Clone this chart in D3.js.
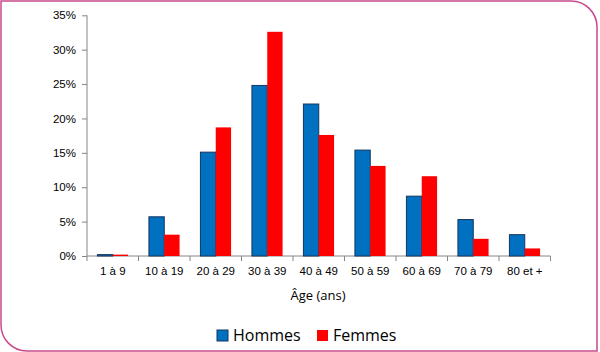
<!DOCTYPE html>
<html>
<head>
<meta charset="utf-8">
<script src="https://cdn.jsdelivr.net/npm/d3@7"></script>
<style>
  body { margin: 0; background: #fff; }
  svg { display: block; font-family: "Open Sans", "DejaVu Sans", sans-serif; }
</style>
</head>
<body>
<svg id="chart" width="600" height="352"></svg>
<script>
var categories = ["1 à 9", "10 à 19", "20 à 29", "30 à 39", "40 à 49", "50 à 59", "60 à 69", "70 à 79", "80 et +"];
var hommes = [0.2, 5.7, 15.1, 24.8, 22.1, 15.4, 8.7, 5.3, 3.1];
var femmes = [0.2, 3.1, 18.7, 32.6, 17.6, 13.1, 11.6, 2.5, 1.1];
var yTicks = [0, 5, 10, 15, 20, 25, 30, 35];
var seriesNames = ["Hommes", "Femmes"];
var seriesColors = ["#0070c0", "#ff0000"];

var svg = d3.select("#chart");
var w = 600, h = 352;
var axisColor = "#868686";

// frame with two rounded corners
var r = 26;
svg.append("path")
    .attr("d", "M1,1 H" + (w - 3 - r) + " A" + r + "," + r + " 0 0 1 " + (w - 3) + "," + (1 + r) +
               " V" + (h - 1) + " H" + (1 + r) + " A" + r + "," + r + " 0 0 1 1," + (h - 1 - r) + " Z")
    .attr("fill", "#fff")
    .attr("stroke", "#c84a8c")
    .attr("stroke-width", 1.5);

var plotLeft = 87, plotRight = 550.5, plotTop = 15.3, plotBottom = 256;

var x = d3.scaleBand().domain(categories).range([plotLeft, plotRight]).paddingInner(0).paddingOuter(0);
var x1 = d3.scaleBand().domain(seriesNames).range([0, x.bandwidth()]).paddingOuter(0.68).paddingInner(0);
var y = d3.scaleLinear().domain([0, 35]).range([plotBottom, plotTop]);

// y axis
var yAxis = svg.append("g").attr("transform", "translate(" + plotLeft + ",0)")
    .call(d3.axisLeft(y).tickValues(yTicks).tickSize(5).tickPadding(6).tickFormat(function(d) { return d + "%"; }));
yAxis.select(".domain").attr("stroke", axisColor).attr("d", "M0," + plotTop + "V" + plotBottom);
yAxis.selectAll(".tick line").attr("stroke", axisColor);
yAxis.selectAll(".tick text").attr("font-size", 11.5).attr("fill", "#000");

// x axis
var xAxis = svg.append("g").attr("transform", "translate(0," + plotBottom + ")")
    .call(d3.axisBottom(x).tickSize(0).tickPadding(11));
xAxis.select(".domain").attr("stroke", axisColor).attr("d", "M" + plotLeft + ",0H" + plotRight);
xAxis.selectAll(".tick text").attr("font-size", 11.5).attr("fill", "#000");
xAxis.selectAll(".sep").data(d3.range(categories.length + 1)).enter().append("line")
    .attr("x1", function(i) { return plotLeft + i * x.step(); })
    .attr("x2", function(i) { return plotLeft + i * x.step(); })
    .attr("y1", 0).attr("y2", 5)
    .attr("stroke", axisColor);

// bars
var rows = categories.map(function(c, i) { return { cat: c, vals: [hommes[i], femmes[i]] }; });
var groups = svg.append("g").selectAll("g").data(rows).enter().append("g")
    .attr("transform", function(d) { return "translate(" + x(d.cat) + ",0)"; });
groups.selectAll("rect").data(function(d) {
        return d.vals.map(function(v, k) { return { name: seriesNames[k], v: v, k: k }; });
    }).enter().append("rect")
    .attr("x", function(d) { return x1(d.name); })
    .attr("width", x1.bandwidth())
    .attr("y", function(d) { return y(d.v); })
    .attr("height", function(d) { return plotBottom - y(d.v); })
    .attr("fill", function(d) { return seriesColors[d.k]; })
    .attr("stroke", function(d) { return d.k === 0 ? "#17365d" : "none"; })
    .attr("stroke-width", 1);

// axis title
svg.append("text")
    .attr("x", 318).attr("y", 300)
    .attr("text-anchor", "middle")
    .attr("font-size", 13)
    .text("Âge (ans)");

// legend
var legendX = [217, 317];
var legend = svg.append("g").selectAll("g").data(seriesNames).enter().append("g")
    .attr("transform", function(d, i) { return "translate(" + legendX[i] + ",330)"; });
legend.append("rect")
    .attr("width", 11).attr("height", 11)
    .attr("fill", function(d, i) { return seriesColors[i]; })
    .attr("stroke", function(d, i) { return i === 0 ? "#17365d" : "none"; });
legend.append("text")
    .attr("x", 16).attr("y", 11)
    .attr("font-size", 16)
    .text(function(d) { return d; });
</script>
</body>
</html>
